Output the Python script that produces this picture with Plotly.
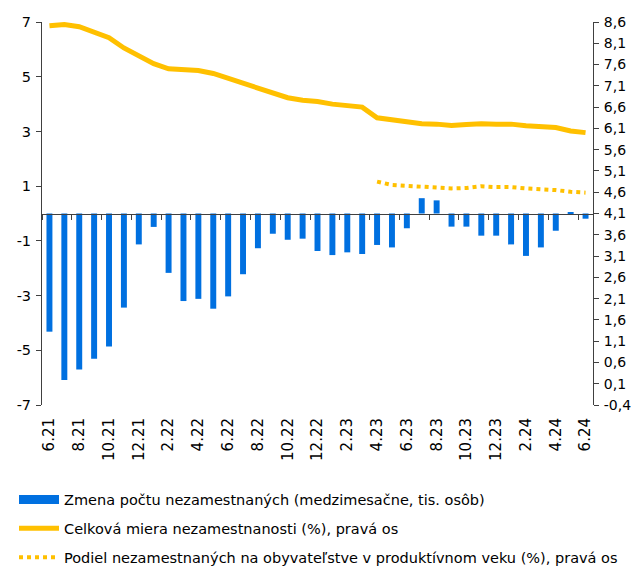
import plotly.graph_objects as go

months = ["6.21", "7.21", "8.21", "9.21", "10.21", "11.21", "12.21",
          "1.22", "2.22", "3.22", "4.22", "5.22", "6.22", "7.22", "8.22", "9.22", "10.22", "11.22", "12.22",
          "1.23", "2.23", "3.23", "4.23", "5.23", "6.23", "7.23", "8.23", "9.23", "10.23", "11.23", "12.23",
          "1.24", "2.24", "3.24", "4.24", "5.24", "6.24"]

change_unemployed = [-4.32, -6.09, -5.70, -5.31, -4.86, -3.44, -1.13,
                     -0.49, -2.17, -3.20, -3.12, -3.48, -3.03, -2.22, -1.27, -0.74, -0.96, -0.92, -1.37,
                     -1.52, -1.42, -1.48, -1.15, -1.24, -0.54, 0.56, 0.48, -0.48, -0.48, -0.81, -0.81,
                     -1.13, -1.55, -1.24, -0.63, 0.05, -0.19]

unemployment_rate = [8.51, 8.54, 8.49, 8.36, 8.23, 7.99, 7.80,
                     7.62, 7.50, 7.47, 7.46, 7.39, 7.28, 7.16, 7.07, 6.94, 6.82, 6.76, 6.73,
                     6.67, 6.63, 6.60, 6.35, 6.30, 6.25, 6.21, 6.20, 6.17, 6.19, 6.21, 6.20,
                     6.20, 6.16, 6.13, 6.12, 6.04, 6.00]

share_working_age = [None] * 22 + [4.85, 4.77, 4.75, 4.73, 4.72, 4.69, 4.70, 4.74, 4.72,
                                   4.72, 4.69, 4.68, 4.65, 4.61, 4.59]

x_tick_labels = months[::2]
left_tick_vals = [7, 5, 3, 1, -1, -3, -5, -7]
left_tick_text = ["7", "5", "3", "1", "-1", "-3", "-5", "-7"]
right_tick_vals = [8.6, 8.1, 7.6, 7.1, 6.6, 6.1, 5.6, 5.1, 4.6, 4.1, 3.6, 3.1, 2.6, 2.1, 1.6, 1.1, 0.6, 0.1, -0.4]
right_tick_text = ["8,6", "8,1", "7,6", "7,1", "6,6", "6,1", "5,6", "5,1", "4,6", "4,1", "3,6", "3,1",
                   "2,6", "2,1", "1,6", "1,1", "0,6", "0,1", "-0,4"]

name_bar = "Zmena počtu nezamestnaných (medzimesačne, tis. osôb)"
name_rate = "Celková miera nezamestnanosti (%), pravá os"
name_share = "Podiel nezamestnaných na obyvateľstve v produktívnom veku (%), pravá os"

BLUE = "#0070E0"
GOLD = "#FFC000"
AXIS = "#404040"
FONT = "DejaVu Sans"

fig = go.Figure()
fig.add_trace(go.Bar(x=months, y=change_unemployed, name=name_bar, marker=dict(color=BLUE, line=dict(width=0)),
                     showlegend=False, yaxis="y"))
# legend proxy for the bar series (wide rectangle symbol)
fig.add_trace(go.Scatter(x=[months[0]], y=[None], mode="lines", name=name_bar, legendgroup="a",
                         line=dict(color=BLUE, width=9), yaxis="y"))
fig.add_trace(go.Scatter(x=months, y=unemployment_rate, name=name_rate, mode="lines", legendgroup="b",
                         line=dict(color=GOLD, width=5), yaxis="y2"))
fig.add_trace(go.Scatter(x=months, y=share_working_age, name=name_share, mode="lines", legendgroup="c",
                         line=dict(color=GOLD, width=4, dash="dot"), yaxis="y2"))
# decorative tick axis along the zero line
fig.add_trace(go.Scatter(x=[-0.5, 36.5], y=[None, None], mode="lines", showlegend=False,
                         xaxis="x2", yaxis="y", hoverinfo="skip"))

fig.update_layout(
    width=631, height=561,
    margin=dict(l=34, r=46, t=14, b=164, autoexpand=False),
    plot_bgcolor="white", paper_bgcolor="white",
    font=dict(family=FONT, size=13, color="#000000"),
    bargap=0.6,
    xaxis=dict(type="category", categoryorder="array", categoryarray=months,
               tickvals=x_tick_labels, ticktext=x_tick_labels, tickangle=-90,
               showline=False, showgrid=False, ticks="outside", ticklen=6,
               tickcolor="rgba(0,0,0,0)", zeroline=False,
               range=[-0.5, 36.5], tickfont=dict(size=15)),
    xaxis2=dict(overlaying="x", anchor="free", position=0.5, range=[-0.5, 36.5],
                tick0=-0.5, dtick=2, ticks="outside", ticklen=5, tickcolor=AXIS,
                showticklabels=False, showline=True, linecolor=AXIS, linewidth=1,
                showgrid=False, zeroline=False),
    yaxis=dict(range=[-7, 7], tickvals=left_tick_vals, ticktext=left_tick_text,
               showline=True, linecolor=AXIS, linewidth=1, ticks="outside", ticklen=5,
               tickcolor=AXIS, showgrid=False, zeroline=False, tickfont=dict(size=14.5),
               ticklabelstandoff=2),
    yaxis2=dict(range=[-0.4, 8.6], overlaying="y", side="right", tickvals=right_tick_vals,
                ticktext=right_tick_text, showline=True, linecolor=AXIS, linewidth=1,
                ticks="outside", ticklen=5, tickcolor=AXIS, showgrid=False, zeroline=False,
                tickfont=dict(size=14), ticklabelstandoff=2),
    legend=dict(orientation="v", x=-0.0508, xanchor="left", y=-0.205, yanchor="top",
                font=dict(size=14.5, family=FONT), tracegroupgap=7, itemwidth=40,
                bgcolor="rgba(0,0,0,0)"),
    showlegend=True,
)

fig.write_html("out.html")
